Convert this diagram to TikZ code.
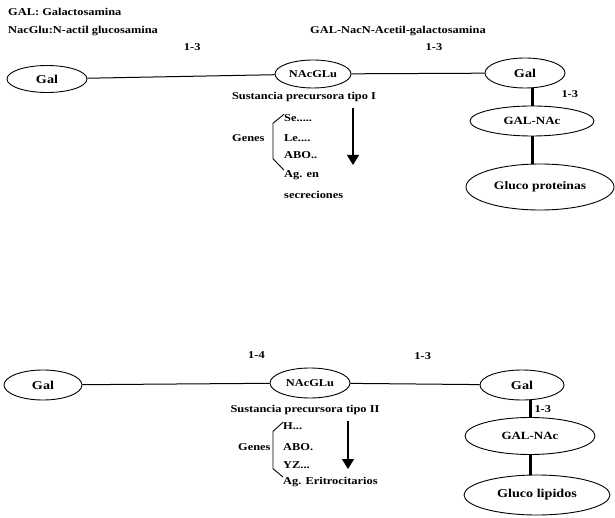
\documentclass[tikz,border=0pt]{standalone}
\usepackage{fontspec}
\setmainfont{Liberation Serif}[FakeStretch=1.18]
\usetikzlibrary{shapes.geometric,arrows.meta}
\begin{document}
\begin{tikzpicture}[x=1pt, y=-1pt, >={Triangle[length=10pt,width=12pt]},
    azucar/.style={draw, ellipse, line width=0.9pt, inner sep=0pt, font=\bfseries\fontsize{12}{13}\selectfont},
    texto/.style={font=\bfseries\fontsize{10.5}{12}\selectfont, inner sep=0pt, anchor=west},
    enlace/.style={line width=1pt},
    grueso/.style={line width=3pt}]

        \useasboundingbox (0,0) rectangle (615,518);

        % Leyenda
        \node[texto] (ley1) at (8,12) {GAL: Galactosamina};
        \node[texto] (ley2) at (8,31) {NacGlu:N-actil glucosamina};
        \node[texto] (ley3) at (310,31) {GAL-NacN-Acetil-galactosamina};

        % Cadena superior
        \node[azucar, minimum width=80pt, minimum height=27pt] (gal1) at (47,79) {Gal};
        \node[azucar, minimum width=76pt, minimum height=28pt, font=\bfseries\fontsize{10.5}{12}\selectfont] (nac1) at (313,74) {NAcGLu};
        \node[azucar, minimum width=80pt, minimum height=30pt] (galb1) at (525,73) {Gal};
        \node[azucar, minimum width=124pt, minimum height=30pt, font=\bfseries\fontsize{11}{12}\selectfont] (galnac1) at (532,121) {GAL-NAc};
        \node[azucar, minimum width=148pt, minimum height=46pt, font=\bfseries\fontsize{11.5}{13}\selectfont] (prot) at (540,187) {Gluco proteinas};
        \draw[enlace] (gal1) -- (nac1) node[texto, anchor=center, pos=0.56, yshift=29pt] (e1) {1-3};
        \draw[enlace] (nac1) -- (galb1) node[texto, anchor=center, pos=0.62, yshift=26pt] (e2) {1-3};
        \draw[grueso] (galb1.south -| galnac1) -- (galnac1.north) node[texto, midway, xshift=28pt, yshift=3pt] (e3) {1-3};
        \draw[grueso] (galnac1.south) -- (galnac1.south |- prot.north);

        % Sustancia tipo I
        \node[texto, anchor=center] (sus1) at (304,97) {Sustancia precursora tipo I};
        \node[texto] (se) at (284,118) {Se.....};
        \node[texto] (le) at (284,138) {Le....};
        \node[texto] (abo1) at (284,155) {ABO..};
        \node[texto] (ag1) at (284,175) {Ag. en};
        \node[texto] (sec) at (284,195) {secreciones};
        \node[texto] (gen1) at (232,138) {Genes};
        \draw[line width=0.9pt] (se.north west) -- ++(-11,9) coordinate (b1) -- (b1 |- abo1.south) -- (ag1.north west);
        \coordinate (f1a) at (353,108);
        \coordinate (f1b) at (353,165);
        \draw[->, line width=1.3pt] (f1a) -- (f1b);

        % Cadena inferior
        \node[azucar, minimum width=78pt, minimum height=30pt] (gal2) at (43,385) {Gal};
        \node[azucar, minimum width=80pt, minimum height=30pt, font=\bfseries\fontsize{10.5}{12}\selectfont] (nac2) at (310,383) {NAcGLu};
        \node[azucar, minimum width=84pt, minimum height=30pt] (galb2) at (522,385) {Gal};
        \node[azucar, minimum width=130pt, minimum height=37pt, font=\bfseries\fontsize{11}{12}\selectfont] (galnac2) at (530,436) {GAL-NAc};
        \node[azucar, minimum width=146pt, minimum height=40pt, font=\bfseries\fontsize{12}{13}\selectfont] (lip) at (537,495) {Gluco lipidos};
        \draw[enlace] (gal2) -- (nac2) node[texto, anchor=center, pos=0.93, yshift=28pt] (e4) {1-4};
        \draw[enlace] (nac2) -- (galb2) node[texto, anchor=center, pos=0.56, yshift=28pt] (e5) {1-3};
        \draw[grueso] (galb2.south -| galnac2) -- (galnac2.north) node[texto, midway, xshift=3pt] (e6) {1-3};
        \draw[grueso] (galnac2.south) -- (galnac2.south |- lip.north);

        % Sustancia tipo II
        \node[texto, anchor=center] (sus2) at (305,410) {Sustancia precursora tipo II};
        \node[texto] (h) at (283,426) {H...};
        \node[texto] (abo2) at (283,447) {ABO.};
        \node[texto] (yz) at (283,465) {YZ...};
        \node[texto] (ag2) at (283,482) {Ag. Eritrocitarios};
        \node[texto] (gen2) at (238,447) {Genes};
        \draw[line width=0.9pt] (h.north west) -- ++(-10,9) coordinate (b2) -- (b2 |- yz.south) -- (ag2.north west);
        \coordinate (f2a) at (348,421);
        \coordinate (f2b) at (348,469);
        \draw[->, line width=1.3pt] (f2a) -- (f2b);

\end{tikzpicture}
\end{document}
